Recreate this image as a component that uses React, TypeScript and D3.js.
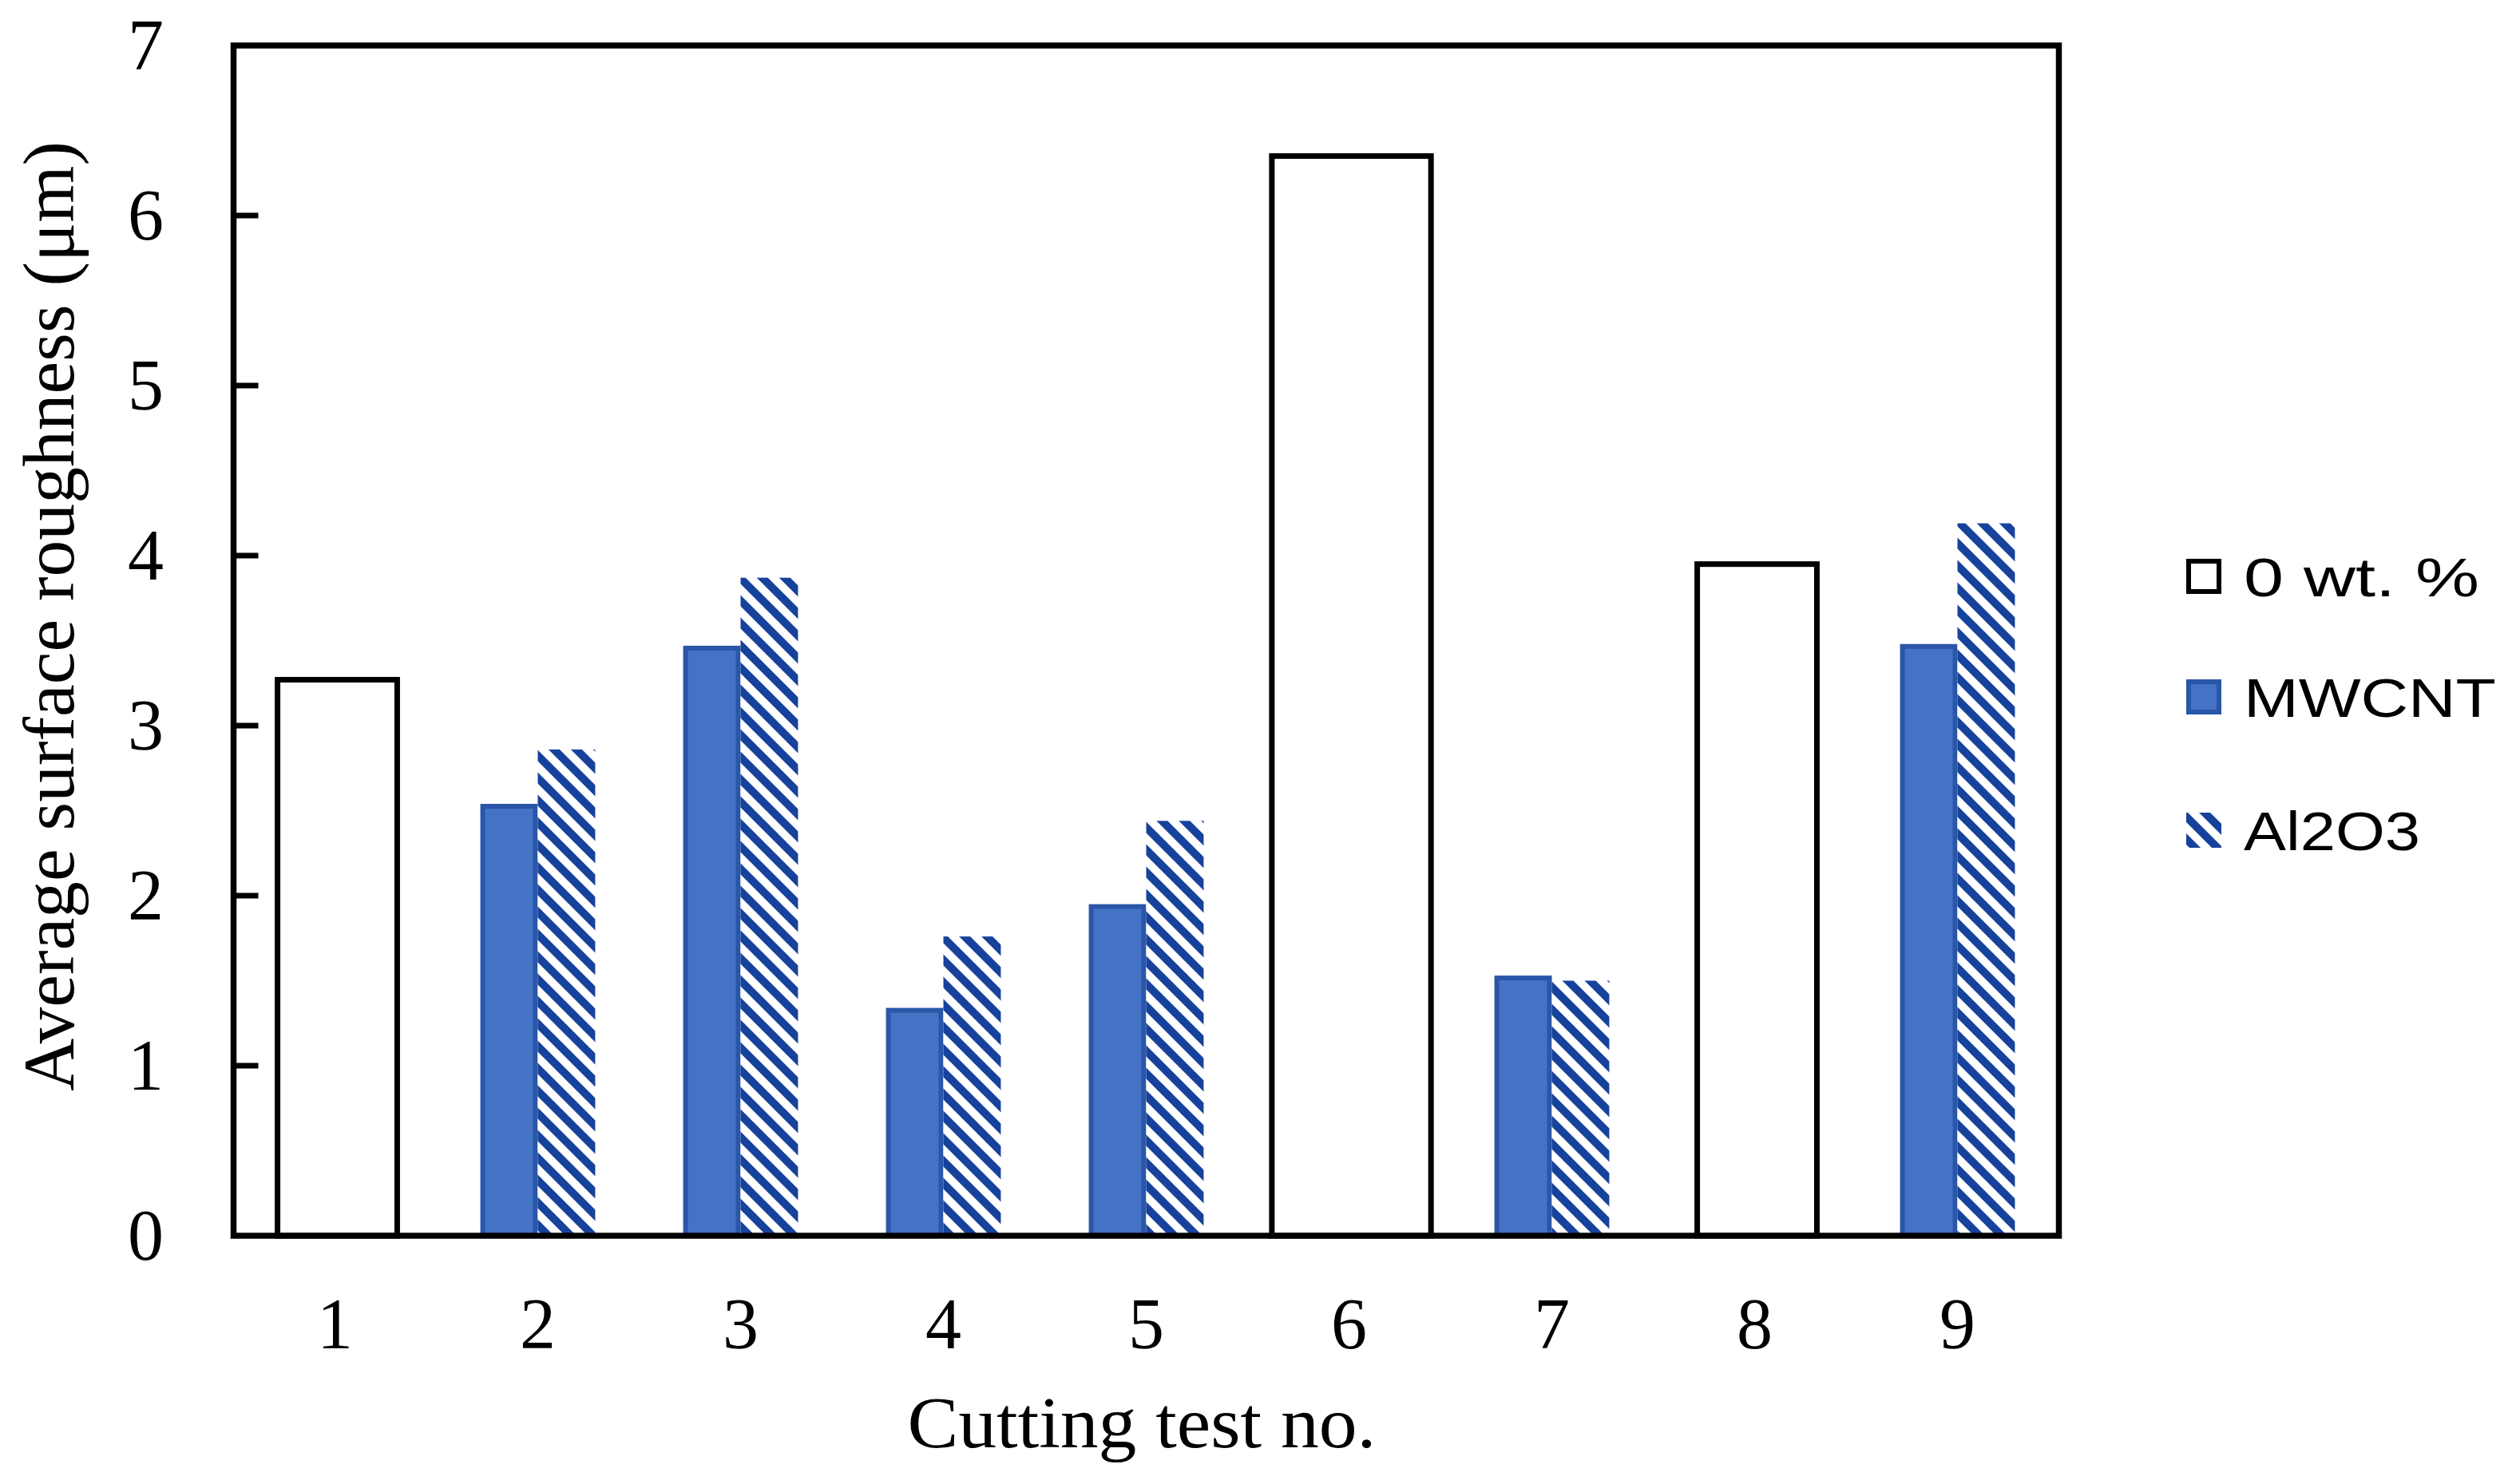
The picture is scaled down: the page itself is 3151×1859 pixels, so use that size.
import React from "react";
import * as d3 from "d3";

// ---------- data ----------
const tests = ["1", "2", "3", "4", "5", "6", "7", "8", "9"];
const zeroWt: (number | null)[] = [3.27, null, null, null, null, 6.35, null, 3.95, null];
const mwcnt: (number | null)[] = [null, 2.54, 3.47, 1.34, 1.95, null, 1.53, null, 3.48];
const al2o3: (number | null)[] = [null, 2.86, 3.87, 1.76, 2.44, null, 1.5, null, 4.19];
const yTicks = [0, 1, 2, 3, 4, 5, 6, 7];
const legendLabels = ["0 wt. %", "MWCNT", "Al2O3"];
const xTitle = "Cutting test no.";
const yTitle = "Average surface roughness (\u03bcm)";

// ---------- layout ----------
const W = 3151;
const H = 1859;
const left = 292.5;
const right = 2578.5;
const top = 57;
const bottom = 1548;
const serif = "'Liberation Serif', 'Times New Roman', serif";
const sans = "'Liberation Sans', Arial, sans-serif";
const blue = "#4472C4";
const blueEdge = "#2A56A8";
const hatch = "#17429B";
const wideTests = new Set(["6"]);

export default function App() {
  const x = d3
    .scaleBand<string>()
    .domain(tests)
    .range([left, right])
    .paddingInner(0.41)
    .paddingOuter(0.205);
  const bw = x.bandwidth();
  const pair = d3.scaleBand<string>().domain(["MWCNT", "Al2O3"]).range([3, bw - 3]);
  const y = d3.scaleLinear().domain([0, 7]).range([bottom, top]);

  const legendY = [722, 873, 1040];
  const lx = 2738;
  const ms = 44;
  const textX = 2810;
  const textLens = [295, 316, 221];

  return (
    <svg
      width={W}
      height={H}
      viewBox={`0 0 ${W} ${H}`}
      style={{ position: "absolute", left: 0, top: 0, background: "#fff", display: "block" }}
    >
      <defs>
        <pattern
          id="hatch"
          patternUnits="userSpaceOnUse"
          width={19.8}
          height={19.8}
          patternTransform="rotate(-45)"
        >
          <rect x={0} y={0} width={19.8} height={19.8} fill="#fff" />
          <rect x={0} y={0} width={9.9} height={19.8} fill={hatch} />
        </pattern>
      </defs>
      <rect x={0} y={0} width={W} height={H} fill="#fff" />

      {/* 0 wt.% bars */}
      {tests.map((t, i) => {
        const v = zeroWt[i];
        if (v == null) return null;
        const c = (x(t) as number) + bw / 2;
        const w = wideTests.has(t) ? bw * 1.33 : bw;
        return (
          <rect
            key={"z" + t}
            x={c - w / 2 + 3}
            y={y(v)}
            width={w}
            height={bottom - y(v)}
            fill="#fff"
            stroke="#000"
            strokeWidth={7}
          />
        );
      })}

      {/* MWCNT bars */}
      {tests.map((t, i) => {
        const v = mwcnt[i];
        if (v == null) return null;
        const x0 = (x(t) as number) + (pair("MWCNT") as number);
        return (
          <rect
            key={"m" + t}
            x={x0 + 3}
            y={y(v) + 3}
            width={pair.bandwidth() - 6}
            height={bottom - y(v) - 3}
            fill={blue}
            stroke={blueEdge}
            strokeWidth={6}
          />
        );
      })}

      {/* Al2O3 bars */}
      {tests.map((t, i) => {
        const v = al2o3[i];
        if (v == null) return null;
        const x0 = (x(t) as number) + (pair("Al2O3") as number);
        return (
          <rect
            key={"a" + t}
            x={x0}
            y={y(v)}
            width={pair.bandwidth()}
            height={bottom - y(v)}
            fill="url(#hatch)"
          />
        );
      })}

      {/* frame */}
      <rect
        x={left}
        y={top}
        width={right - left}
        height={bottom - top}
        fill="none"
        stroke="#000"
        strokeWidth={7.5}
      />

      {/* y ticks and labels */}
      {yTicks.map((t) => (
        <g key={"yt" + t}>
          {t > 0 && t < 7 && (
            <line x1={left} x2={left + 31} y1={y(t)} y2={y(t)} stroke="#000" strokeWidth={7} />
          )}
          <text
            x={205}
            y={y(t) + 30}
            textAnchor="end"
            fontFamily={serif}
            fontSize={90}
            fill="#000"
          >
            {t}
          </text>
        </g>
      ))}

      {/* x labels */}
      {tests.map((t) => (
        <text
          key={"xl" + t}
          x={(x(t) as number) + bw / 2}
          y={1689}
          textAnchor="middle"
          fontFamily={serif}
          fontSize={90}
          fill="#000"
        >
          {t}
        </text>
      ))}

      {/* axis titles */}
      <text
        x={1430}
        y={1813}
        textAnchor="middle"
        fontFamily={serif}
        fontSize={90}
        fill="#000"
        textLength={587}
        lengthAdjust="spacingAndGlyphs"
      >
        {xTitle}
      </text>
      <text
        transform={`translate(92, 772) rotate(-90)`}
        textAnchor="middle"
        fontFamily={serif}
        fontSize={90}
        fill="#000"
        textLength={1190}
        lengthAdjust="spacingAndGlyphs"
      >
        {yTitle}
      </text>

      {/* legend */}
      <rect
        x={lx + 3}
        y={legendY[0] - ms / 2 + 3}
        width={ms - 6}
        height={ms - 6}
        fill="#fff"
        stroke="#000"
        strokeWidth={6}
      />
      <rect
        x={lx + 3}
        y={legendY[1] - ms / 2 + 3}
        width={ms - 6}
        height={ms - 6}
        fill={blue}
        stroke={blueEdge}
        strokeWidth={6}
      />
      <rect x={lx} y={legendY[2] - ms / 2} width={ms} height={ms} fill="url(#hatch)" />
      {legendLabels.map((l, i) => (
        <text
          key={"lg" + i}
          x={textX}
          y={legendY[i] + 25}
          fontFamily={sans}
          fontSize={69}
          fill="#000"
          textLength={textLens[i]}
          lengthAdjust="spacingAndGlyphs"
        >
          {l}
        </text>
      ))}
    </svg>
  );
}
